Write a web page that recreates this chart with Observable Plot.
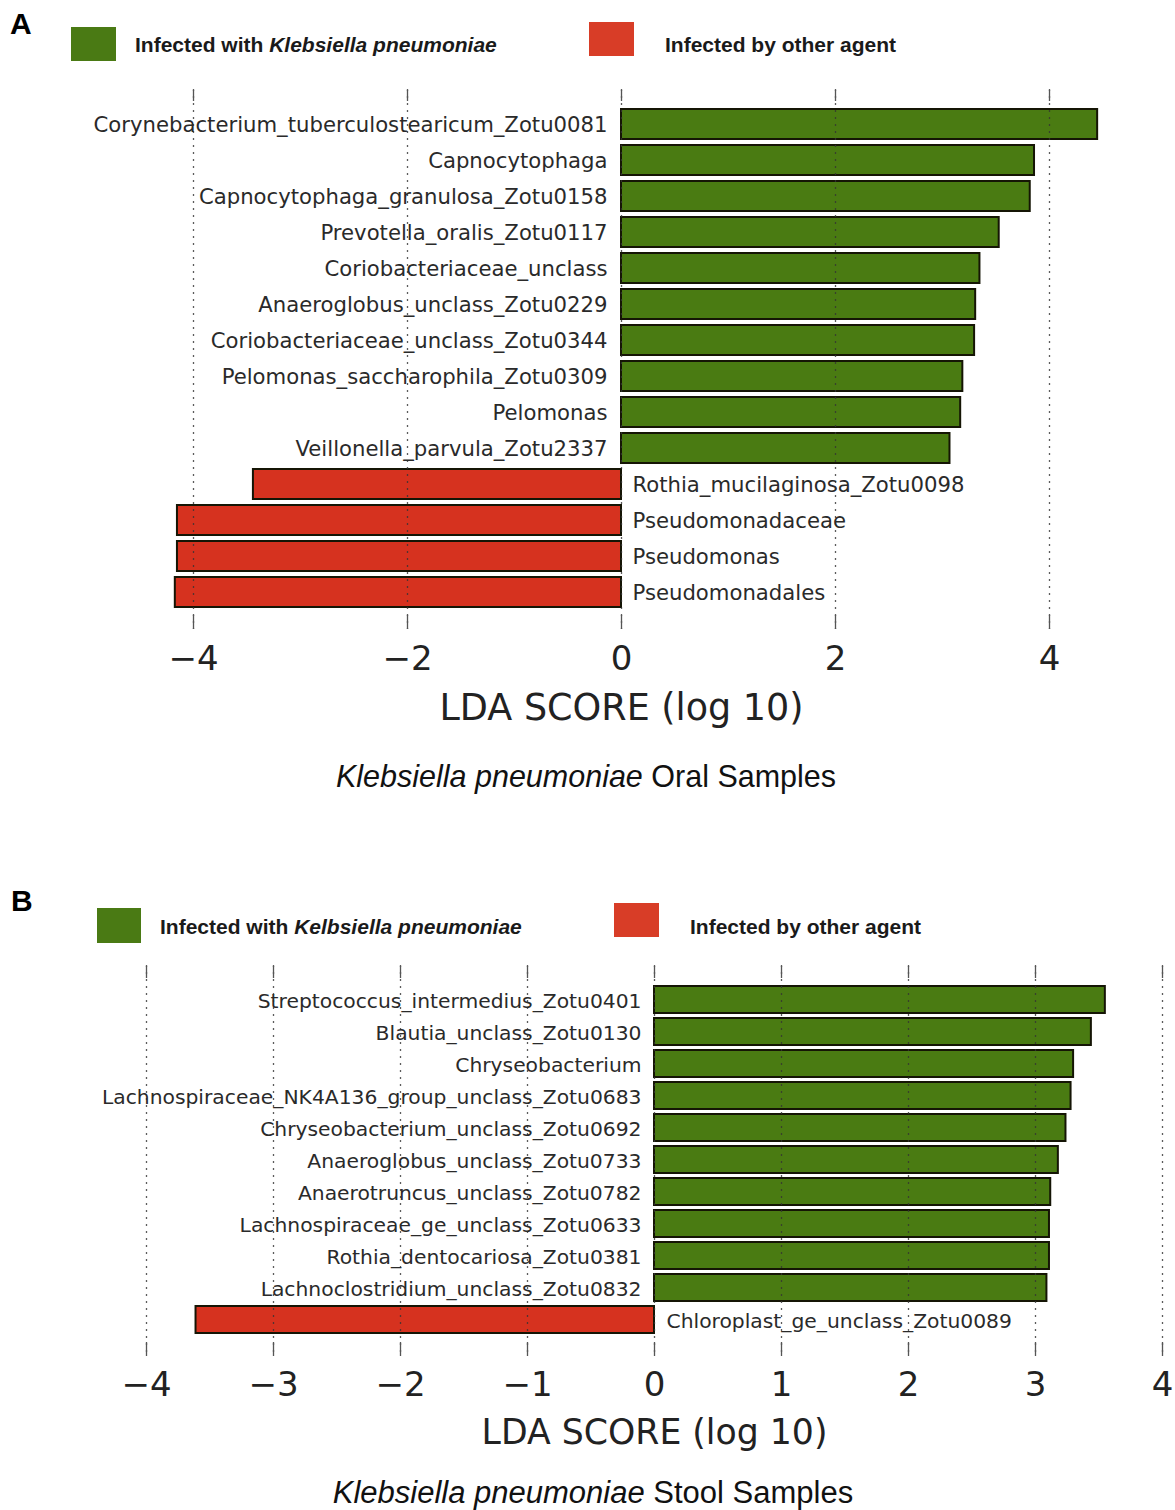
<!DOCTYPE html>
<html>
<head>
<meta charset="utf-8">
<script src="https://cdn.jsdelivr.net/npm/d3@7"></script>
<script src="https://cdn.jsdelivr.net/npm/@observablehq/plot@0.6"></script>
<style>
  html, body { margin: 0; padding: 0; background: #fff; }
  #page { position: relative; width: 1175px; height: 1510px; background: #fff; overflow: hidden; font-family: "Liberation Sans", Arial, sans-serif; }
  .abs { position: absolute; white-space: nowrap; }
  .panel { position: absolute; left: 0; }
  .letter { font-weight: bold; font-size: 30px; color: #000; line-height: 1; }
  .sw { position: absolute; }
  .leg { font-weight: bold; font-size: 21px; color: #1a1a1a; line-height: 1; transform: translateY(-50%); }
  .cap { font-size: 30.5px; color: #111; line-height: 1; transform: translate(-50%, -50%); }
</style>
</head>
<body>
<div id="page">
  <div class="abs letter" style="left:10px; top:9px;">A</div>
  <div class="sw" id="swA1" style="left:71px; top:27px; width:45px; height:34px;"></div>
  <div class="abs leg" style="left:135px; top:44px;">Infected with <i>Klebsiella pneumoniae</i></div>
  <div class="sw" id="swA2" style="left:589px; top:22px; width:45px; height:34px;"></div>
  <div class="abs leg" style="left:665px; top:44px;">Infected by other agent</div>
  <div class="panel" id="panelA" style="top:80px;"></div>
  <div class="abs cap" style="left:586px; top:776px;"><i>Klebsiella pneumoniae</i> Oral Samples</div>

  <div class="abs letter" style="left:11px; top:886px;">B</div>
  <div class="sw" id="swB1" style="left:97px; top:908px; width:44px; height:35px;"></div>
  <div class="abs leg" style="left:160px; top:926px;">Infected with <i>Kelbsiella pneumoniae</i></div>
  <div class="sw" id="swB2" style="left:614px; top:903px; width:45px; height:34px;"></div>
  <div class="abs leg" style="left:690px; top:926px;">Infected by other agent</div>
  <div class="panel" id="panelB" style="top:950px;"></div>
  <div class="abs cap" style="left:593px; top:1492px; font-size:31px;"><i>Klebsiella pneumoniae</i> Stool Samples</div>
</div>
<script>
// ---------- Data ----------
const oralNames = [
  "Corynebacterium_tuberculostearicum_Zotu0081",
  "Capnocytophaga",
  "Capnocytophaga_granulosa_Zotu0158",
  "Prevotella_oralis_Zotu0117",
  "Coriobacteriaceae_unclass",
  "Anaeroglobus_unclass_Zotu0229",
  "Coriobacteriaceae_unclass_Zotu0344",
  "Pelomonas_saccharophila_Zotu0309",
  "Pelomonas",
  "Veillonella_parvula_Zotu2337",
  "Rothia_mucilaginosa_Zotu0098",
  "Pseudomonadaceae",
  "Pseudomonas",
  "Pseudomonadales"
];
const oralLDA = [4.45, 3.86, 3.82, 3.53, 3.35, 3.31, 3.30, 3.19, 3.17, 3.07, -3.44, -4.15, -4.15, -4.17];
const oralTicks = [-4, -2, 0, 2, 4];

const stoolNames = [
  "Streptococcus_intermedius_Zotu0401",
  "Blautia_unclass_Zotu0130",
  "Chryseobacterium",
  "Lachnospiraceae_NK4A136_group_unclass_Zotu0683",
  "Chryseobacterium_unclass_Zotu0692",
  "Anaeroglobus_unclass_Zotu0733",
  "Anaerotruncus_unclass_Zotu0782",
  "Lachnospiraceae_ge_unclass_Zotu0633",
  "Rothia_dentocariosa_Zotu0381",
  "Lachnoclostridium_unclass_Zotu0832",
  "Chloroplast_ge_unclass_Zotu0089"
];
const stoolLDA = [3.55, 3.44, 3.30, 3.28, 3.24, 3.18, 3.12, 3.11, 3.11, 3.09, -3.61];
const stoolTicks = [-4, -3, -2, -1, 0, 1, 2, 3, 4];

const groupNames = ["Infected with Klebsiella pneumoniae", "Infected by other agent"];
const GREEN = "#4a7b12";
const RED = "#d6321f";

document.getElementById("swA1").style.background = "#4a7a14";
document.getElementById("swB1").style.background = "#4a7a14";
document.getElementById("swA2").style.background = "#d83d27";
document.getElementById("swB2").style.background = "#d83d27";

function ldaPanel({names, values, ticks, domain, height, marginTop, marginBottom, marginLeft, marginRight,
                   paddingInner, paddingOuter, labelSize, labelDxPos, labelDxNeg, topTick, bottomTick, tickPad, titleDy, titleSize}) {
  const data = names.map((name, i) => ({name, value: values[i]}));
  const pos = data.filter(d => d.value >= 0);
  const neg = data.filter(d => d.value < 0);
  return Plot.plot({
    width: 1175,
    height,
    marginTop, marginBottom, marginLeft, marginRight,
    style: {fontFamily: "DejaVu Sans, sans-serif", color: "#222", background: "transparent", overflow: "visible"},
    x: {domain, ticks},
    y: {domain: names, axis: null, paddingInner, paddingOuter},
    marks: [
      Plot.barX(data, {
        x1: 0, x2: "value", y: "name",
        fill: d => d.value >= 0 ? GREEN : RED,
        stroke: "#151505", strokeWidth: 2
      }),
      Plot.ruleX(ticks, {
        stroke: "#333", strokeWidth: 1.3, strokeDasharray: "2,5", strokeOpacity: 0.8,
        insetTop: -topTick, insetBottom: -bottomTick
      }),
      Plot.axisX({anchor: "top", ticks, tickSize: topTick, tickFormat: () => "", label: null, stroke: "#555", strokeWidth: 1.3}),
      Plot.axisX({anchor: "bottom", ticks, tickSize: bottomTick, tickPadding: tickPad, fontSize: 34, label: null, stroke: "#555", strokeWidth: 1.3}),
      Plot.text(pos, {
        x: 0, y: "name", text: "name", textAnchor: "end", dx: -labelDxPos, dy: 1,
        fontSize: labelSize, fill: "#2a2a2a"
      }),
      Plot.text(neg, {
        x: 0, y: "name", text: "name", textAnchor: "start", dx: labelDxNeg, dy: 1,
        fontSize: labelSize, fill: "#2a2a2a"
      }),
      Plot.text(["LDA SCORE (log 10)"], {
        x: 0, frameAnchor: "bottom", dy: titleDy, fontSize: titleSize, fill: "#222", lineAnchor: "middle"
      })
    ]
  });
}

document.getElementById("panelA").appendChild(ldaPanel({
  names: oralNames, values: oralLDA, ticks: oralTicks, domain: [-4.5, 4.7],
  height: 675, marginTop: 20, marginBottom: 140, marginLeft: 139.5, marginRight: 51.1,
  paddingInner: 0.172, paddingOuter: 0.193, labelSize: 21.2, labelDxPos: 14, labelDxNeg: 11,
  topTick: 11, bottomTick: 14, tickPad: 16, titleDy: 93, titleSize: 36.5
}));

document.getElementById("panelB").appendChild(ldaPanel({
  names: stoolNames, values: stoolLDA, ticks: stoolTicks, domain: [-4, 4],
  height: 510, marginTop: 27, marginBottom: 118, marginLeft: 146, marginRight: 13,
  paddingInner: 0.15, paddingOuter: 0.106, labelSize: 20.3, labelDxPos: 13, labelDxNeg: 12,
  topTick: 12, bottomTick: 14, tickPad: 15, titleDy: 90, titleSize: 34.7
}));
</script>
</body>
</html>
